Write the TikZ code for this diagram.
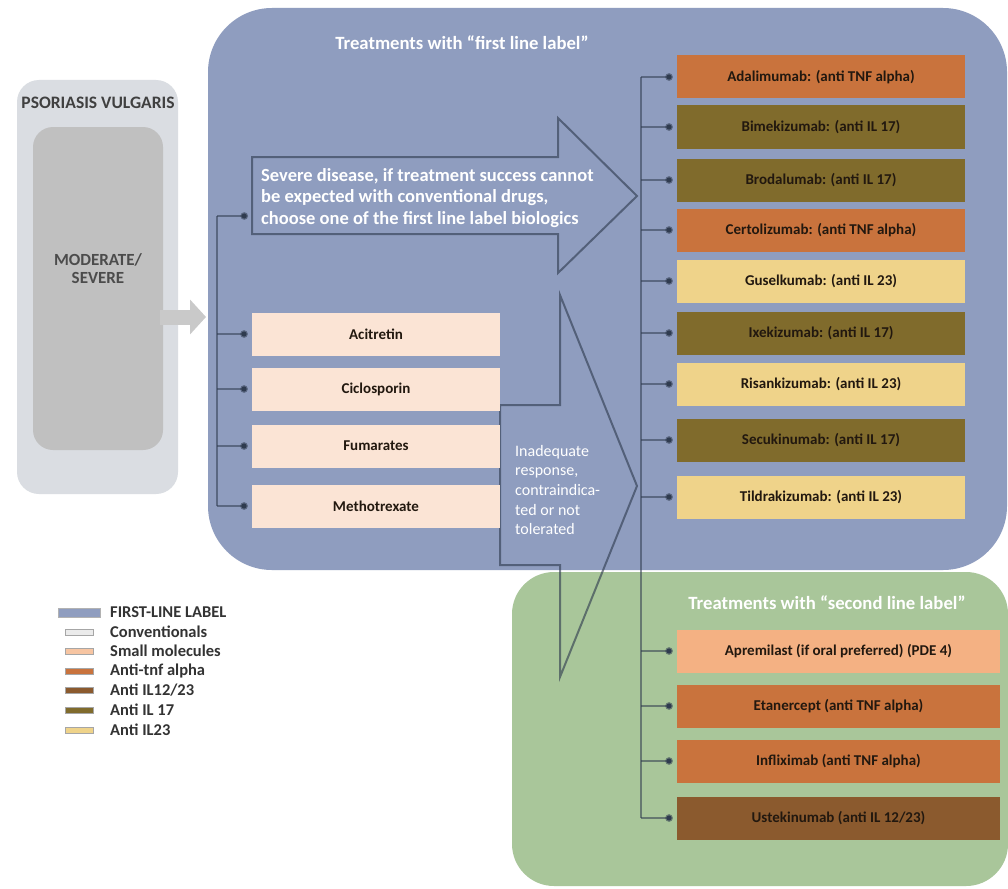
\documentclass[tikz,border=0pt]{standalone}
\usepackage{fontspec}
\setmainfont{Carlito}
\usetikzlibrary{arrows.meta}

\definecolor{firstline}{HTML}{8F9DBF}
\definecolor{secondline}{HTML}{A9C69A}
\definecolor{outergrey}{HTML}{DADDE2}
\definecolor{innergrey}{HTML}{C0C0C0}
\definecolor{greyarrow}{HTML}{C9C9C9}
\definecolor{conventional}{HTML}{FBE4D5}
\definecolor{smallmol}{HTML}{F4B183}
\definecolor{antitnf}{HTML}{C9733D}
\definecolor{antiil1223}{HTML}{8B5A2E}
\definecolor{antiil17}{HTML}{806B2C}
\definecolor{antiil23}{HTML}{EFD38A}
\definecolor{linkcol}{HTML}{2F3B4F}
\definecolor{boxtext}{HTML}{22180F}

\tikzset{
  drugbox/.style={minimum height=43, inner sep=0, text=boxtext,
    font=\bfseries\fontsize{15}{17}\selectfont},
  firstbio/.style={drugbox, minimum width=288},
  secondbio/.style={drugbox, minimum width=323},
  convbox/.style={drugbox, minimum width=248, fill=conventional},
  link/.style={draw=linkcol, draw opacity=0.55, line width=2.4,
    -{Circle[length=7.5,width=7.5]}},
  trunk/.style={draw=linkcol, draw opacity=0.55, line width=2.4},
  blockarrow/.style={draw=linkcol, draw opacity=0.62, line width=2, line join=miter},
  swatch/.style={draw=black!35, line width=0.6},
  legendtext/.style={anchor=west, inner sep=0, text=black!80,
    font=\bfseries\fontsize{16.5}{18}\selectfont},
  paneltitle/.style={text=white, font=\bfseries\fontsize{18.7}{21}\selectfont},
}

\begin{document}
\begin{tikzpicture}[x=1pt,y=-1pt]
\useasboundingbox (0,0) rectangle (1008,888);
\fill[white] (0,0) rectangle (1008,888);

% disease panel on the left
\fill[outergrey, rounded corners=22] (17,80) rectangle (178,494);
\node[text=black!75, font=\bfseries\fontsize{17.5}{19}\selectfont] (pso) at (98,103) {PSORIASIS VULGARIS};
\fill[innergrey, rounded corners=20] (33,127) rectangle (163,450);
\node[text=black!70, align=center, font=\bfseries\fontsize{17}{18}\selectfont]
  (mod) at (98,269) {MODERATE/\\SEVERE};
\coordinate (modout) at (160,317);

% treatment panels
\fill[secondline, rounded corners=42] (512,572) rectangle (1008,886);
\fill[firstline, rounded corners=64] (208,8) rectangle (1007,570);

\draw[greyarrow, line width=15, -{Triangle[length=16,width=34]}] (modout) -- (206,317);

\node[paneltitle] (t1) at (462,43) {Treatments with “first line label”};
\node[paneltitle] (t2) at (827,603) {Treatments with “second line label”};

% block arrow: severe disease
\draw[blockarrow] (252,157) -- (558,157) -- (558,118) -- (637,196)
  -- (558,273) -- (558,234) -- (252,234) -- cycle;
\node[anchor=west, align=left, text=white, inner sep=0,
  font=\bfseries\fontsize{18.5}{21.5}\selectfont] (sev) at (261,198)
  {Severe disease, if treatment success cannot\\be expected with conventional drugs,\\choose one of the first line label biologics};
\coordinate (sevin) at (252,216);

% block arrow: inadequate response
\draw[blockarrow] (500,405) -- (560,405) -- (560,295) -- (637,486)
  -- (560,677) -- (560,565) -- (500,565) -- cycle;
\node[anchor=west, align=left, text=white, inner sep=0,
  font=\fontsize{16}{19.7}\selectfont] (inad) at (515,490)
  {Inadequate\\response,\\contraindica-\\ted or not\\tolerated};

% conventional systemic drugs
\node[convbox] (acit) at (376,334) {Acitretin};
\node[convbox] (cicl) at (376,389) {Ciclosporin};
\node[convbox] (fuma) at (376,446) {Fumarates};
\node[convbox] (meth) at (376,506) {Methotrexate};

% first line label biologics
\node[firstbio, fill=antitnf]  (adal) at (821,77)  {Adalimumab: (anti TNF alpha)};
\node[firstbio, fill=antiil17] (bime) at (821,127) {Bimekizumab: (anti IL 17)};
\node[firstbio, fill=antiil17] (brod) at (821,180) {Brodalumab: (anti IL 17)};
\node[firstbio, fill=antitnf]  (cert) at (821,230) {Certolizumab: (anti TNF alpha)};
\node[firstbio, fill=antiil23] (guse) at (821,281) {Guselkumab: (anti IL 23)};
\node[firstbio, fill=antiil17] (ixek) at (821,333) {Ixekizumab: (anti IL 17)};
\node[firstbio, fill=antiil23] (risa) at (821,384) {Risankizumab: (anti IL 23)};
\node[firstbio, fill=antiil17] (secu) at (821,440) {Secukinumab: (anti IL 17)};
\node[firstbio, fill=antiil23] (tild) at (821,497) {Tildrakizumab: (anti IL 23)};

% second line label treatments
\node[secondbio, fill=smallmol]   (apre) at (838.5,651) {Apremilast (if oral preferred) (PDE 4)};
\node[secondbio, fill=antitnf]    (etan) at (838.5,706) {Etanercept (anti TNF alpha)};
\node[secondbio, fill=antitnf]    (infl) at (838.5,761) {Infliximab (anti TNF alpha)};
\node[secondbio, fill=antiil1223] (uste) at (838.5,818) {Ustekinumab (anti IL 12/23)};

% connector trunks
\coordinate (lt) at (217,0);
\coordinate (rt) at (641,0);
\draw[trunk] (lt |- sevin) -- (lt |- meth.west);
\draw[trunk] (rt |- adal.west) -- (rt |- uste.west);

% branches
\foreach \n in {acit,cicl,fuma,meth}
  \draw[link] (lt |- \n.west) -- ([xshift=-4]\n.west);
\draw[link] (lt |- sevin) -- ([xshift=-4]sevin);
\foreach \n in {adal,bime,brod,cert,guse,ixek,risa,secu,tild,apre,etan,infl,uste}
  \draw[link] (rt |- \n.west) -- ([xshift=-4]\n.west);

% legend
\fill[firstline, draw=black!30, line width=0.6] (58,608) rectangle (100,617);
\draw[swatch, fill=white!92!black] (65,629) rectangle (93,635);
\draw[swatch, fill=smallmol!75!white] (65,648) rectangle (93,654);
\draw[swatch, fill=antitnf] (65,668) rectangle (93,674);
\draw[swatch, fill=antiil1223] (65,687) rectangle (93,693);
\draw[swatch, fill=antiil17] (65,707) rectangle (93,713);
\draw[swatch, fill=antiil23] (65,727) rectangle (93,733);
\node[legendtext] (l1) at (110,612) {FIRST-LINE LABEL};
\node[legendtext] (l2) at (110,632) {Conventionals};
\node[legendtext] (l3) at (110,651) {Small molecules};
\node[legendtext] (l4) at (110,671) {Anti-tnf alpha};
\node[legendtext] (l5) at (110,690) {Anti IL12/23};
\node[legendtext] (l6) at (110,710) {Anti IL 17};
\node[legendtext] (l7) at (110,730) {Anti IL23};
\end{tikzpicture}
\end{document}
